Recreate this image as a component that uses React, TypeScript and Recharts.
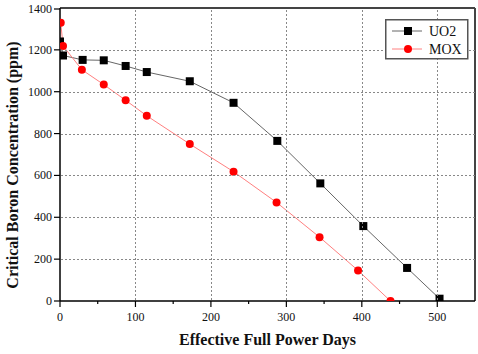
import React from 'react';
import { LineChart, Line, XAxis, YAxis, ReferenceLine, Legend } from 'recharts';

const uo2Days = [0, 4, 30, 58, 87, 115, 172, 230, 288, 345, 402, 460, 503];
const uo2Boron = [1240, 1173, 1152, 1150, 1123, 1094, 1050, 947, 765, 562, 358, 158, 11];
const moxDays = [1, 4, 29, 58, 87, 115, 172, 230, 287, 344, 395, 438];
const moxBoron = [1330, 1219, 1105, 1034, 959, 885, 750, 618, 471, 305, 146, 0];

const xTicks = [0, 50, 100, 150, 200, 250, 300, 350, 400, 450, 500];
const yTicks = [0, 100, 200, 300, 400, 500, 600, 700, 800, 900, 1000, 1100, 1200, 1300, 1400];
const xGrid = [100, 200, 300, 400, 500];
const yGrid = [200, 400, 600, 800, 1000, 1200];
const X_MAX = 550;
const Y_MAX = 1400;

const CHART_W = 478;
const CHART_H = 354;
const M_TOP = 8;
const M_RIGHT = 3;
const Y_AXIS_W = 60;
const X_AXIS_H = 53;
const PLOT_W = CHART_W - Y_AXIS_W - M_RIGHT;
const PLOT_H = CHART_H - M_TOP - X_AXIS_H;

const uo2Data = uo2Days.map((d, i) => ({ x: d, y: uo2Boron[i] }));
const moxData = moxDays.map((d, i) => ({ x: d, y: moxBoron[i] }));

const FONT = 'Liberation Serif, Times New Roman, serif';
const GRID = '#888';

const XTick = (props: any) => {
  const { x, y, payload } = props;
  const v = Number(payload.value);
  const major = v % 100 === 0;
  const gx = Math.round(x) + 0.5;
  const showGrid = xGrid.indexOf(v) >= 0;
  return (
    <g>
      {showGrid && (
        <path d={`M${gx},${y - 1}V${y - PLOT_H}`} stroke={GRID} strokeWidth={1} strokeDasharray="2 2" fill="none" />
      )}
      <line x1={x} x2={x} y1={y} y2={y + (major ? 6 : 3)} stroke="#000" strokeWidth={1.2} />
      {major && (
        <text x={x} y={y + 20} textAnchor="middle" style={{ fontFamily: FONT, fontSize: 12 }} fill="#111">
          {v}
        </text>
      )}
    </g>
  );
};

const YTick = (props: any) => {
  const { x, y, payload } = props;
  const v = Number(payload.value);
  const major = v % 200 === 0;
  const gy = Math.round(y) + 0.5;
  const showGrid = yGrid.indexOf(v) >= 0;
  return (
    <g>
      {showGrid && (
        <path d={`M${x + 1},${gy}H${x + PLOT_W}`} stroke={GRID} strokeWidth={1} strokeDasharray="2 2" fill="none" />
      )}
      <line x1={x - (major ? 6 : 3)} x2={x} y1={y} y2={y} stroke="#000" strokeWidth={1.2} />
      {major && (
        <text x={x - 8} y={y + 4} textAnchor="end" style={{ fontFamily: FONT, fontSize: 12 }} fill="#111">
          {v}
        </text>
      )}
    </g>
  );
};

const Square = (props: any) => {
  const { cx, cy, index } = props;
  if (cx == null || cy == null) return null;
  return <rect key={'s' + index} x={cx - 4} y={cy - 4} width={8} height={8} fill="#000" />;
};

const Circle = (props: any) => {
  const { cx, cy, index } = props;
  if (cx == null || cy == null) return null;
  return <circle key={'c' + index} cx={cx} cy={cy} r={4} fill="#ff0000" />;
};

const LegendBox = () => (
  <svg width={84} height={41} style={{ display: 'block' }}>
    <rect x={0.75} y={0.75} width={82} height={39} fill="#fff" stroke="#555" strokeWidth={1.5} />
    <line x1={7} x2={37} y1={12} y2={12} stroke="#666" strokeWidth={1} />
    <rect x={19} y={8} width={8} height={8} fill="#000" />
    <text x={44} y={17} style={{ fontFamily: FONT, fontSize: 14 }} fill="#111">UO2</text>
    <line x1={7} x2={37} y1={30} y2={30} stroke="#ff8080" strokeWidth={1} />
    <circle cx={23} cy={30} r={4} fill="#ff0000" />
    <text x={44} y={35} style={{ fontFamily: FONT, fontSize: 14 }} fill="#111">MOX</text>
  </svg>
);

export default function App() {
  return (
    <div style={{ position: 'absolute', left: 0, top: 0, width: CHART_W, height: CHART_H, background: '#fff' }}>
      <LineChart width={CHART_W} height={CHART_H} margin={{ top: M_TOP, right: M_RIGHT, left: 0, bottom: 0 }}>
        <XAxis
          type="number"
          dataKey="x"
          domain={[0, X_MAX]}
          ticks={xTicks}
          allowDataOverflow
          height={X_AXIS_H}
          tickSize={0}
          tickMargin={0}
          tickLine={false}
          tick={<XTick />}
          axisLine={{ stroke: '#000', strokeWidth: 1.5 }}
          label={{
            content: () => (
              <text x={267.5} y={345} textAnchor="middle" style={{ fontFamily: FONT, fontSize: 16, fontWeight: 'bold' }} fill="#111">
                Effective Full Power Days
              </text>
            ),
          }}
        />
        <YAxis
          type="number"
          dataKey="y"
          domain={[0, Y_MAX]}
          ticks={yTicks}
          allowDataOverflow
          width={Y_AXIS_W}
          tickSize={0}
          tickMargin={0}
          tickLine={false}
          tick={<YTick />}
          axisLine={{ stroke: '#000', strokeWidth: 1.5 }}
          label={{
            content: () => (
              <text
                x={12}
                y={165}
                transform="rotate(-90 12 165)"
                textAnchor="middle"
                dominantBaseline="central"
                style={{ fontFamily: FONT, fontSize: 16, fontWeight: 'bold' }}
                fill="#111"
              >
                Critical Boron Concentration (ppm)
              </text>
            ),
          }}
        />
        <ReferenceLine y={Y_MAX} stroke="#444" strokeWidth={2} />
        <ReferenceLine x={X_MAX} stroke="#444" strokeWidth={2} />
        <Legend
          layout="vertical"
          align="center"
          verticalAlign="middle"
          content={() => <LegendBox />}
          wrapperStyle={{ position: 'absolute', left: 385, top: 19, width: 84, height: 41 }}
        />
        <Line
          name="UO2"
          data={uo2Data}
          dataKey="y"
          stroke="#666"
          strokeWidth={1}
          dot={<Square />}
          isAnimationActive={false}
        />
        <Line
          name="MOX"
          data={moxData}
          dataKey="y"
          stroke="#ff8080"
          strokeWidth={1}
          dot={<Circle />}
          isAnimationActive={false}
        />
      </LineChart>
    </div>
  );
}
